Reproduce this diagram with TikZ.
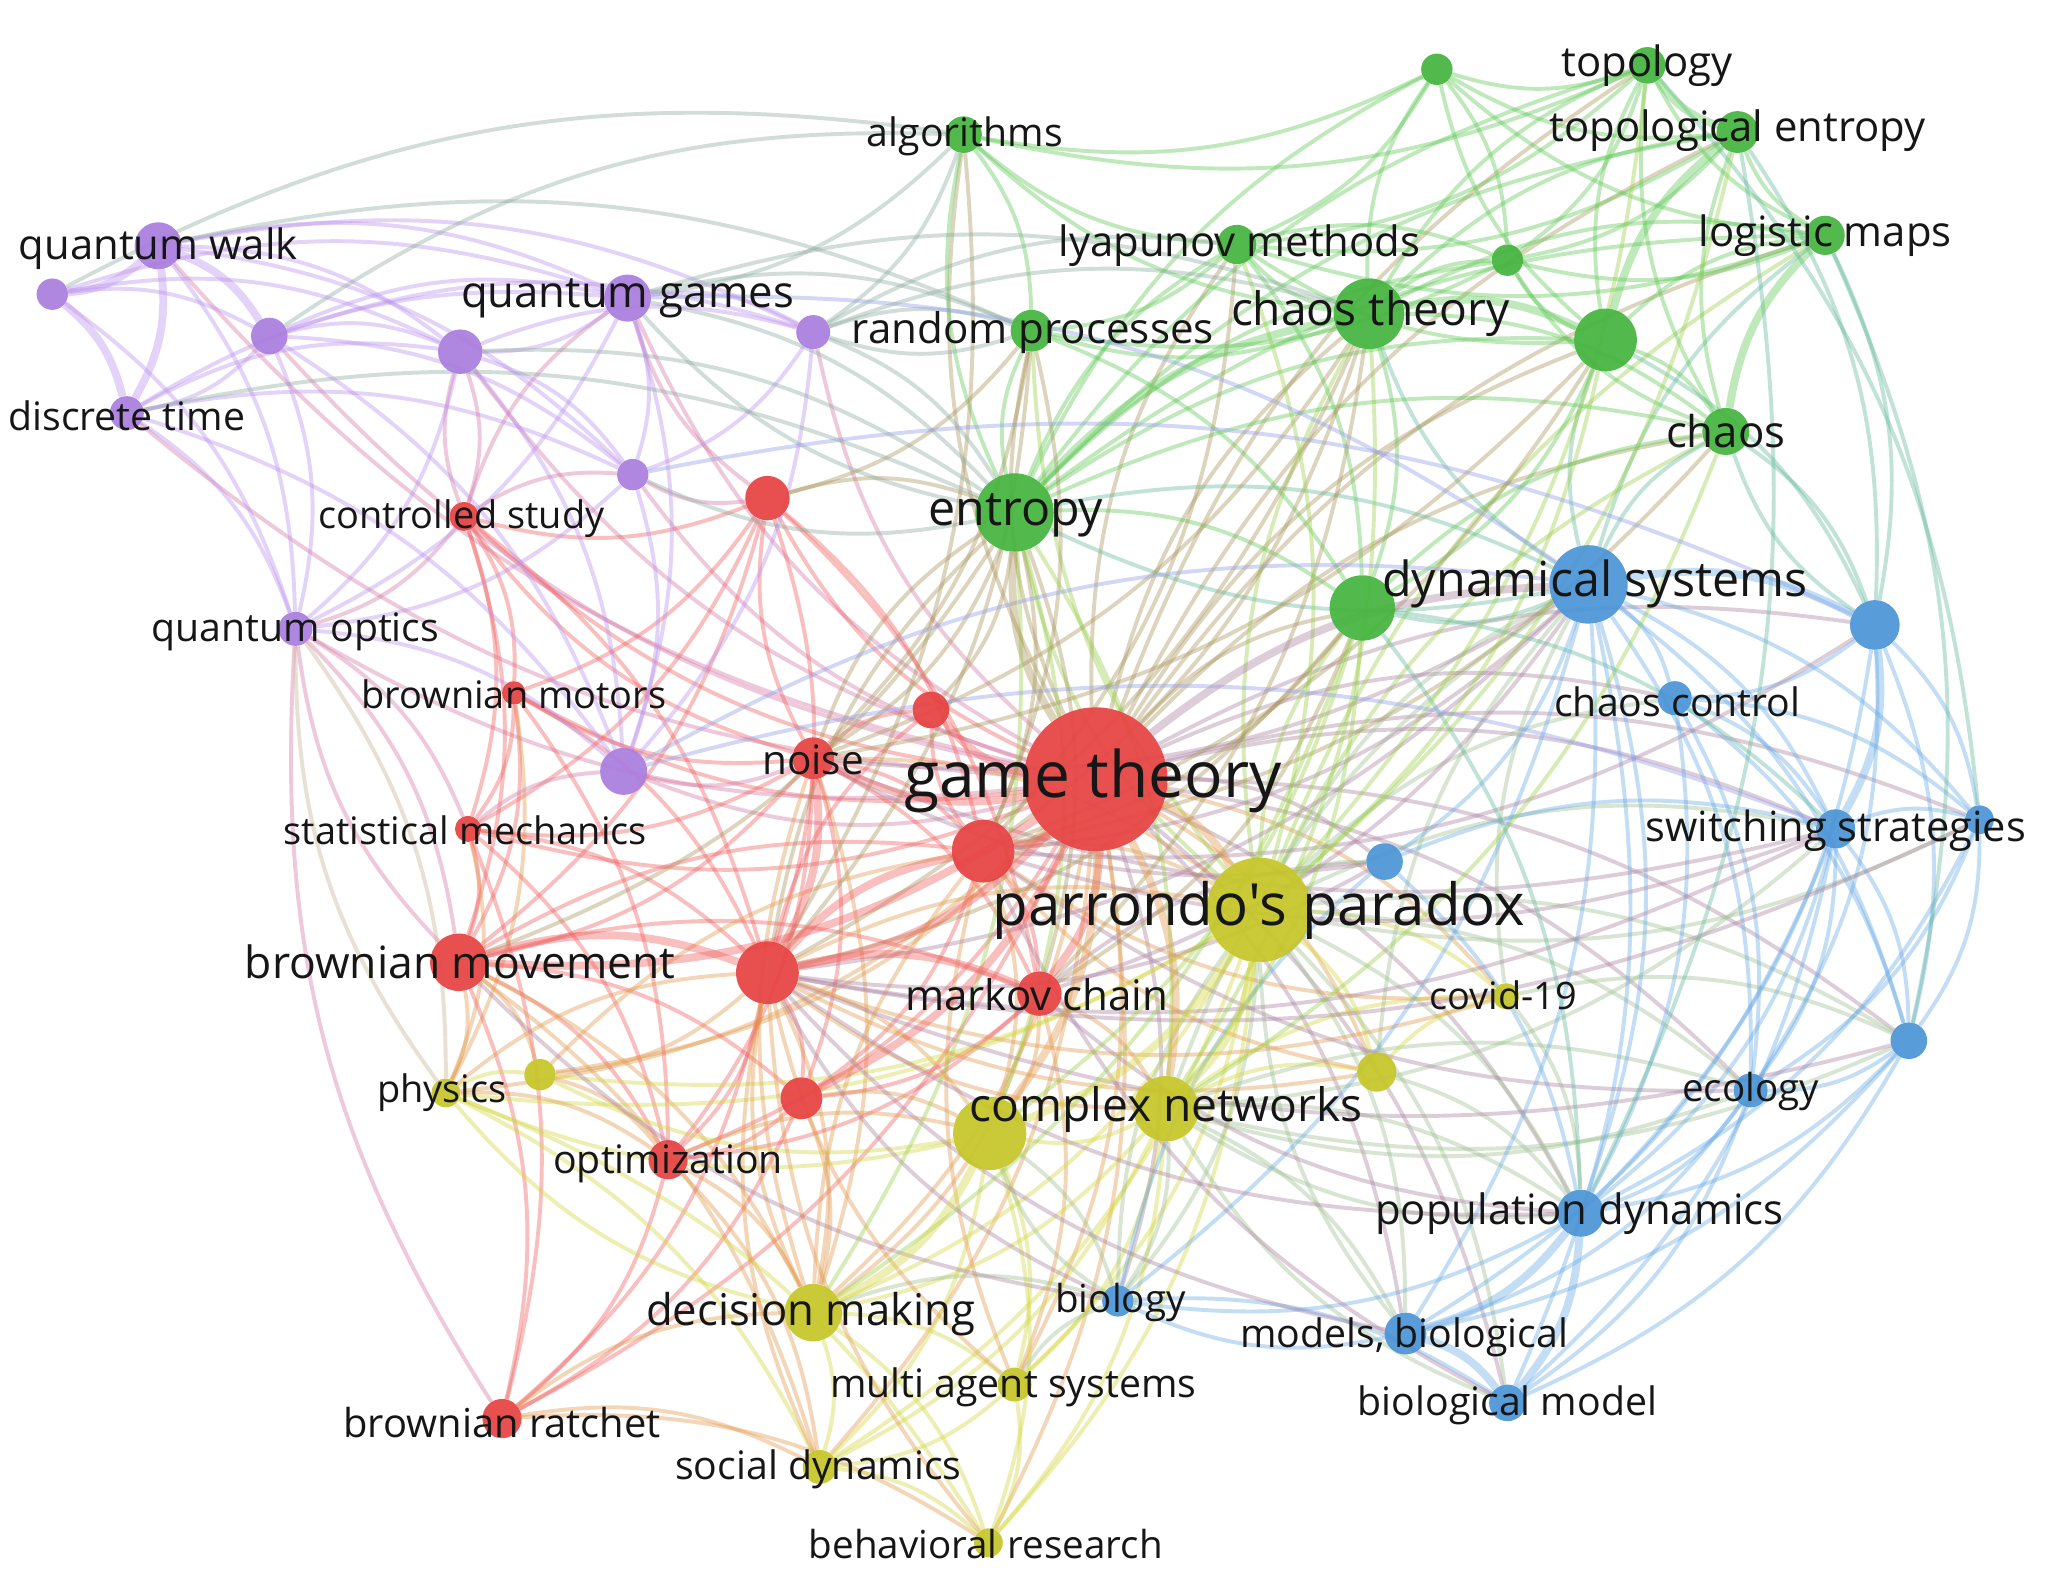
\documentclass[tikz,border=0pt]{standalone}
\usepackage{fontspec}
\setmainfont{Open Sans}[Ligatures=TeXOff]
\usetikzlibrary{backgrounds}
\definecolor{cR}{RGB}{231,66,66}
\definecolor{cG}{RGB}{68,180,62}
\definecolor{cB}{RGB}{74,148,214}
\definecolor{cY}{RGB}{198,198,40}
\definecolor{cP}{RGB}{170,125,222}
\definecolor{lR}{RGB}{240,95,95}
\definecolor{lG}{RGB}{95,200,85}
\definecolor{lB}{RGB}{105,170,230}
\definecolor{lY}{RGB}{212,214,60}
\definecolor{lP}{RGB}{188,145,238}
\definecolor{txt}{RGB}{22,22,22}
\newcommand\setclu[2]{\expandafter\gdef\csname clu-#1\endcsname{#2}}
\tikzset{
  kw/.style={circle,inner sep=0pt,draw=none,fill opacity=0.92},
  lbl/.style={text=txt,inner sep=0pt,yshift=-3pt},
  edge/.style={line width=3pt,draw opacity=0.4,bend left=18},
  thick edge/.style={line width=6pt,draw opacity=0.4,bend left=18}
}
\begin{document}
\begin{tikzpicture}[x=1pt,y=-1pt]
\useasboundingbox (0,0) rectangle (1568,1207);
% ---------- nodes ----------
\foreach \n/\x/\y/\r in {gt/838/596/55, noise/622/580/16, rA/712/543/14, rB/587/381/17, cs/355/395/11, bmo/393/530/9, sm/358/634/10, bmv/351/736/22, rC/587/744/24, rD/752/651/24, mc/795/760/17, rE/613/840/16, opt/511/887/15, br/384/1085/15}
  {\node[kw,fill=cR,minimum size={2*\r pt}] (\n) at (\x,\y) {}; \setclu{\n}{R}}
\foreach \n/\x/\y/\r in {pp/963/696/40, cnA/757/867/28, cn/892/848/25, cov/1152/762/10, yA/1053/820/15, phy/341/836/11, yB/413/822/12, dm/622/1004/22, mas/776/1059/13, sd/627/1122/13, beh/756/1180/11}
  {\node[kw,fill=cY,minimum size={2*\r pt}] (\n) at (\x,\y) {}; \setclu{\n}{Y}}
\foreach \n/\x/\y/\r in {ds/1215/447/30, bA/1434/478/19, cc/1281/534/13, ss/1404/634/15, bB/1514/627/11, bC/1059/659/14, bD/1460/796/14, eco/1339/834/13, pd/1209/928/18, bio/855/995/12, mb/1075/1020/16, bm/1153/1073/14}
  {\node[kw,fill=cB,minimum size={2*\r pt}] (\n) at (\x,\y) {}; \setclu{\n}{B}}
\foreach \n/\x/\y/\r in {ent/776/392/30, ct/1047/240/27, gA/1228/260/24, chaos/1320/330/18, lm/1396/180/15, te/1329/101/16, top/1260/50/14, gB/1099/53/12, lya/946/187/15, gC/1153/199/12, alg/737/103/14, rp/789/253/16, gD/1042/465/25}
  {\node[kw,fill=cG,minimum size={2*\r pt}] (\n) at (\x,\y) {}; \setclu{\n}{G}}
\foreach \n/\x/\y/\r in {qw/121/188/18, pA/40/225/12, pB/206/257/14, dt/97/316/13, qg/480/228/18, pC/352/269/17, pD/622/254/13, pE/484/363/12, qo/226/481/13, pF/477/590/18}
  {\node[kw,fill=cP,minimum size={2*\r pt}] (\n) at (\x,\y) {}; \setclu{\n}{P}}
% ---------- edges ----------
\begin{scope}[on background layer]
\fill[white] (0,0) rectangle (1568,1207);
\foreach \a/\b in {
 gt/cs, gt/bmo, gt/sm, gt/opt, gt/br, gt/dm, gt/mas, gt/sd, gt/beh, gt/phy, gt/yB, gt/cov, gt/yA, gt/ct, gt/gA, gt/chaos, gt/lm, gt/rp, gt/alg, gt/lya, gt/gD, gt/bA, gt/cc, gt/ss, gt/bB, gt/bC, gt/bD, gt/eco, gt/pd, gt/bio, gt/mb, gt/bm, gt/qw, gt/qg, gt/pC, gt/pD, gt/pE, gt/qo, gt/pF, gt/te, gt/top, gt/dt, gt/pB, gt/rB,
 noise/rA, noise/rB, noise/sm, noise/bmv, noise/rD, noise/mc, noise/opt, noise/bmo, noise/cs, noise/pp, noise/ent, noise/pF, noise/dm, noise/rE,
 rB/cs, rB/bmo, rB/sm, rB/bmv, rB/rC, rB/ent, rB/pE, rB/qg, rB/rD, rB/mc,
 cs/bmo, cs/sm, cs/bmv, cs/pC, cs/qo, cs/pE, cs/rC, cs/qg,
 bmo/sm, bmo/bmv, bmo/rC, bmo/opt, bmo/phy,
 sm/bmv, sm/rC, sm/opt, sm/phy, sm/br, sm/pF,
 bmv/opt, bmv/br, bmv/phy, bmv/yB, bmv/rE, bmv/mc, bmv/rD, bmv/dm, bmv/sd, bmv/qo,
 rC/rE, rC/opt, rC/br, rC/pp, rC/cnA, rC/dm, rC/yB, rC/ent, rC/rA,
 rD/mc, rD/pp, rD/rA, rD/rE, rD/cnA,
 mc/cn, mc/cnA, mc/rE, mc/opt, mc/dm, mc/mas, mc/bC,
 rE/opt, rE/br, rE/cnA, rE/dm,
 opt/br, opt/dm, opt/sd, opt/cnA,
 br/sd, br/dm, br/beh, br/qo}
  {\edef\ec{l\csname clu-\a\endcsname!50!l\csname clu-\b\endcsname}\draw[edge,draw=\ec] (\a) to (\b);}
\foreach \a/\b in {
 pp/cov, pp/yA, pp/dm, pp/mas, pp/sd, pp/beh, pp/phy, pp/yB, pp/ds, pp/bC, pp/pd, pp/eco, pp/bio, pp/mb, pp/ss, pp/chaos, pp/ct, pp/ent, pp/gD, pp/cc, pp/bD, pp/bm, pp/rp, pp/lm,
 cn/cnA, cn/yA, cn/cov, cn/dm, cn/mas, cn/beh, cn/pd, cn/bio, cn/mb, cn/eco, cn/ds, cn/sd,
 cnA/mas, cnA/sd, cnA/beh, cnA/bio, cnA/yB, cnA/phy,
 dm/mas, dm/sd, dm/beh, dm/bio, dm/phy,
 mas/sd, mas/beh, mas/bio,
 sd/beh, phy/yB, phy/sd, phy/beh, phy/qo,
 yA/cov, yA/pd, yA/ds, cov/pd, cov/ds, cov/bD,
 phy/rC, phy/opt, yB/rD, yB/opt, dm/rC, dm/rD, dm/noise, sd/rC, beh/rC, mas/rD, mas/rC, cn/rC, cov/rD, cov/rC, yA/rC, yA/rD,
 bio/cnA, bio/pp, mb/pp, bm/cn, pd/cn, eco/cn, ss/cn, bD/cn, bB/pp}
  {\edef\ec{l\csname clu-\a\endcsname!50!l\csname clu-\b\endcsname}\draw[edge,draw=\ec] (\a) to (\b);}
\foreach \a/\b in {
 ds/cc, ds/ss, ds/bB, ds/bC, ds/bD, ds/eco, ds/pd, ds/bio, ds/mb, ds/bm, ds/ct, ds/gA, ds/chaos, ds/gD, ds/ent, ds/lm,
 bA/cc, bA/bB, bA/bD, bA/eco, bA/pd, bA/chaos,
 cc/ss, cc/bB, cc/pd, cc/eco, cc/bD,
 ss/bB, ss/bD, ss/eco, ss/pd, ss/mb, ss/bm,
 bB/bD, bB/eco, bB/pd,
 bD/eco, bD/pd, bD/mb,
 eco/pd, eco/mb, eco/bm,
 pd/bio, mb/bio, bio/bm, bio/bC, bC/pd, bC/ss, bD/bm,
 ds/rC, ds/rD, ds/noise, ds/mc, bA/rD, ss/rD, ss/rC, ss/noise, bB/rC, bD/rC, eco/rD, pd/rC, pd/mc, bio/rC, bio/bmv, mb/rC, bm/rD, bC/rC, bC/noise}
  {\edef\ec{l\csname clu-\a\endcsname!50!l\csname clu-\b\endcsname}\draw[edge,draw=\ec] (\a) to (\b);}
\foreach \a/\b in {
 ent/gA, ent/chaos, ent/lya, ent/rp, ent/alg, ent/gD, ent/lm, ent/te, ent/gC, ent/top, ent/gB, ent/ds, ent/pE, ent/qg,
 ct/chaos, ct/lm, ct/te, ct/top, ct/gB, ct/gC, ct/lya, ct/rp, ct/alg, ct/gD,
 gA/chaos, gA/lm, gA/top, gA/gB, gA/gC, gA/lya, gA/gD, gA/bA,
 chaos/te, chaos/top, chaos/gC, chaos/bA,
 lm/te, lm/top, lm/gB, lm/gC, lm/lya, lm/bA, lm/bD,
 te/gB, te/gC, te/lya, te/bA, te/pd,
 top/gB, top/gC, top/lya, top/alg, top/bB,
 gB/lya, gB/alg, gB/gC,
 lya/gC, lya/rp, lya/alg, lya/gD,
 gC/rp, alg/rp, alg/qg, alg/pD, rp/pD, rp/gD,
 gD/chaos, gD/ss, gD/pd,
 ent/noise, ent/rD, ent/mc, ent/bmv, ent/rA, ct/rD, ct/noise, ct/rC, ct/mc, gA/rD, gA/noise, chaos/rD, lya/rD, rp/noise, rp/rC, rp/rD, rp/rB, alg/rC, gD/rC, gD/mc, gD/rD, gD/cn, gD/cnA, gD/dm, ent/cnA, ent/dm, ct/cn, gA/pp, lya/pp, ent/cn, chaos/cn, te/pp, top/pp}
  {\edef\ec{l\csname clu-\a\endcsname!50!l\csname clu-\b\endcsname}\draw[edge,draw=\ec] (\a) to (\b);}
\foreach \a/\b in {
 qw/qg, qw/pC, qw/pD, qw/pE, qw/qo,
 pA/qg, pA/pC, pA/qo, pA/pB,
 pB/dt, pB/qg, pB/pC, pB/pD, pB/pE, pB/qo, pB/pF,
 dt/pC, dt/qo, dt/pE, dt/qg, dt/pF,
 qg/pC, qg/pD, qg/pE, qg/qo, qg/pF, qg/rp, qg/ent,
 pC/pD, pC/pE, pC/qo, pC/pF, pC/cs,
 pD/pE, pD/pF, pD/ent, pD/rp,
 pE/qo, pE/pF,
 qo/pF, qo/sm, qo/phy, qo/bmv,
 pF/ss, pE/bA, qg/ds, pF/ds, qg/ct, pD/ct, pD/lya, pC/ent, pB/alg, qw/rp, dt/ent, pA/alg}
  {\edef\ec{l\csname clu-\a\endcsname!50!l\csname clu-\b\endcsname}\draw[edge,draw=\ec] (\a) to (\b);}
\foreach \a/\b in {gt/pp, gt/noise, gt/rC, gt/rD, gt/mc, gt/ent, gt/cn, gt/ds, bmv/rC, rC/rD,
 gt/rA, gt/bmv, gt/rE, gt/cnA, noise/rC, rC/mc,
 pp/cn, pp/cnA, cnA/dm, ds/bA, bA/ss, pd/mb, mb/bm, pd/bm,
 ent/ct, ct/gA, te/top, chaos/lm, gA/te, qw/pA, qw/dt, qw/pB, pA/dt}
  {\edef\ec{l\csname clu-\a\endcsname!50!l\csname clu-\b\endcsname}\draw[thick edge,draw=\ec] (\a) to (\b);}
\end{scope}
% ---------- labels ----------
\foreach \n/\x/\y/\s/\t in {
 gt/836/594/49/{game theory},
 pp/963/693/44.5/{parrondo's paradox},
 noise/622/578/31/{noise},
 cs/353/394/29/{controlled study},
 bmo/393/528/29/{brownian motors},
 sm/356/632/29/{statistical mechanics},
 bmv/352/733/34/{brownian movement},
 mc/793/758/32.2/{markov chain},
 opt/511/887/30/{optimization},
 br/384/1085/30.5/{brownian ratchet},
 cn/892/846/35.3/{complex networks},
 cov/1150/758/29/{covid-19},
 phy/338/833/29/{physics},
 dm/620/1002/33.4/{decision making},
 mas/775/1058/30/{multi agent systems},
 sd/626/1121/30/{social dynamics},
 beh/754/1178/29.5/{behavioral research},
 ds/1220/444/37/{dynamical systems},
 cc/1283/534/30/{chaos control},
 ss/1404/632/31.8/{switching strategies},
 eco/1339/832/29.5/{ecology},
 pd/1208/925/32/{population dynamics},
 bio/857/993/29.5/{biology},
 mb/1074/1020/30/{models, biological},
 bm/1153/1072/30/{biological model},
 ent/777/391/37/{entropy},
 ct/1048/237/35.3/{chaos theory},
 chaos/1320/327/33.5/{chaos},
 lm/1396/177/32/{logistic maps},
 te/1329/97/32/{topological entropy},
 top/1260/47/32/{topology},
 lya/948/185/32/{lyapunov methods},
 alg/738/101/30/{algorithms},
 rp/790/251/32.2/{random processes},
 qw/121/187/32/{quantum walk},
 dt/97/315/30/{discrete time},
 qg/480/225/33.4/{quantum games},
 qo/226/480/30/{quantum optics}}
  \node[lbl,font=\fontsize{\s}{\s}\selectfont] (L\n) at (\x,\y) {\t};
\end{tikzpicture}
\end{document}
